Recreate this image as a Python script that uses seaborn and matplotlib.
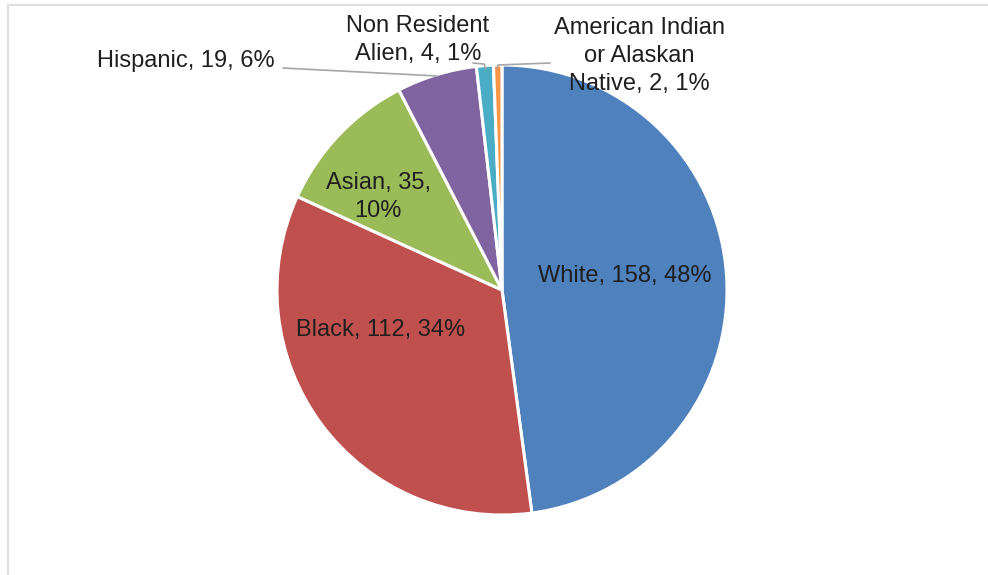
import matplotlib
matplotlib.use("Agg")
import matplotlib.pyplot as plt
import seaborn as sns
from matplotlib.lines import Line2D

sns.set_theme(style="white")
plt.rcParams["font.family"] = ["Liberation Sans", "DejaVu Sans"]

# Enrollment by race / ethnicity
categories = ["White", "Black", "Asian", "Hispanic",
              "Non Resident Alien", "American Indian or Alaskan Native"]
counts = [158, 112, 35, 19, 4, 2]
percent_labels = ["48%", "34%", "10%", "6%", "1%", "1%"]
colors = ["#4F81BD", "#C0504D", "#9BBB59", "#8064A2", "#4BACC6", "#F79646"]

W, H = 988, 575
fig = plt.figure(figsize=(W / 100, H / 100), dpi=100)
ax = fig.add_axes([0, 0, 1, 1])

cx, cy, r = 502, H - 290, 225
ax.pie(counts, colors=colors, startangle=90, counterclock=False,
       center=(cx, cy), radius=r, frame=True,
       wedgeprops=dict(edgecolor="white", linewidth=2.2))
ax.set_xlim(0, W)
ax.set_ylim(0, H)
ax.set_aspect("equal")
ax.axis("off")

txt = "#1F1F1F"
fs = 17

def label(x, y, text):
    ax.text(x, H - y, text, ha="center", va="center", fontsize=fs,
            color=txt, linespacing=1.38)

label(625, 276, f"{categories[0]}, {counts[0]}, {percent_labels[0]}")
label(381, 330, f"{categories[1]}, {counts[1]}, {percent_labels[1]}")
label(378, 197, f"{categories[2]}, {counts[2]},\n{percent_labels[2]}")
label(186, 61, f"{categories[3]}, {counts[3]}, {percent_labels[3]}")
label(418, 40, f"Non Resident\nAlien, {counts[4]}, {percent_labels[4]}")
label(639, 56, f"American Indian\nor Alaskan\nNative, {counts[5]}, {percent_labels[5]}")

# Leader lines for the small outer labels
lc = "#A6A6A6"
ax.add_line(Line2D([283, 437], [H - 68, H - 76], color=lc, lw=1.2))
ax.add_line(Line2D([473, 484, 486], [H - 63, H - 64, H - 69], color=lc, lw=1.2))
ax.add_line(Line2D([550, 498, 497], [H - 63, H - 65, H - 68], color=lc, lw=1.2))

# Chart frame (top and left edges)
fig.add_artist(Line2D([8 / W, 1], [1 - 4.5 / H, 1 - 4.5 / H],
                      transform=fig.transFigure, color="#E0E0E0", lw=1.6))
fig.add_artist(Line2D([8 / W, 8 / W], [0, 1 - 4.5 / H],
                      transform=fig.transFigure, color="#E0E0E0", lw=1.6))

fig.savefig("out.png", dpi=100, facecolor="white")
